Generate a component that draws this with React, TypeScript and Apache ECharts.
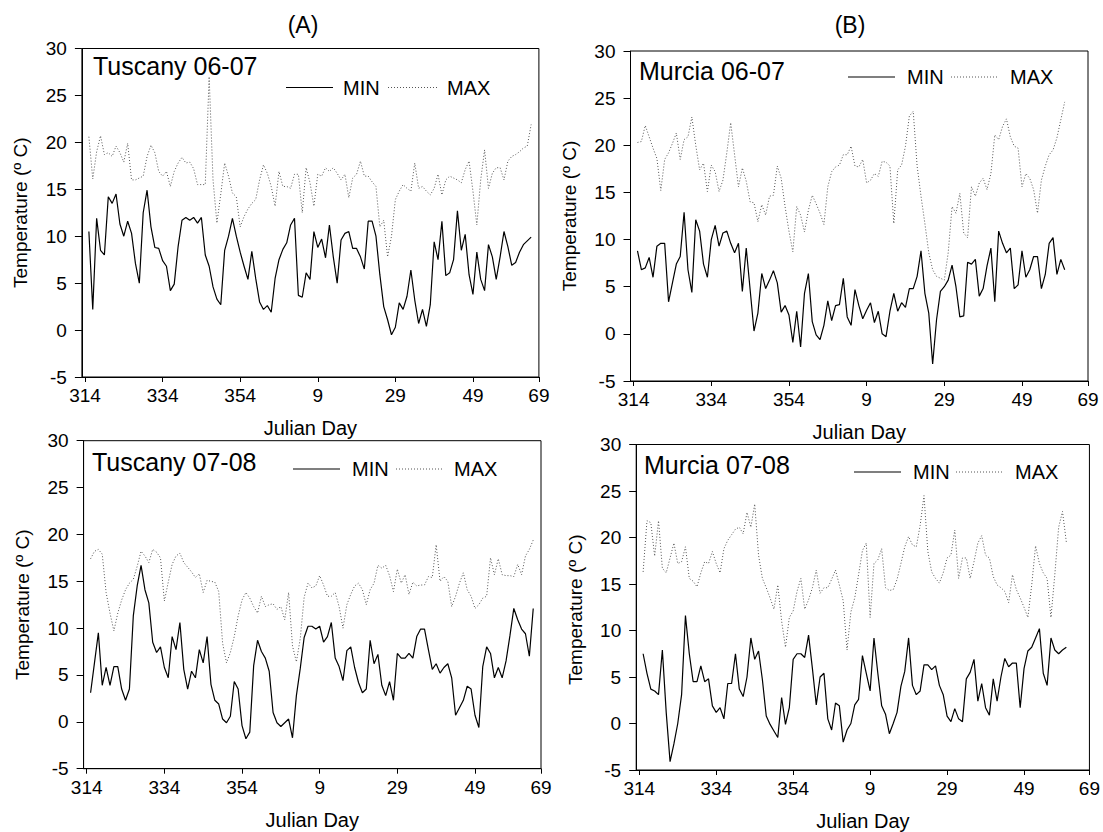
import React, { useEffect, useRef } from 'react';
import * as echarts from 'echarts';

// x positions are days counted from day 314 (day 365 -> 51, day 9 -> 60, ...)
const START_OFFSET = 1; // first observation is day 315
const TICK_POS = [0, 20, 40, 60, 80, 100, 117];
const TICK_LABELS = ['314', '334', '354', '9', '29', '49', '69'];
const X_MIN = -0.8;
const X_MAX = 117;
const Y_MIN = -5;
const Y_MAX = 30;
const Y_STEP = 5;

const PANEL_TITLES = ['Tuscany 06-07', 'Murcia 06-07', 'Tuscany 07-08', 'Murcia 07-08'];
const COLUMN_TITLES = ['(A)', '(B)'];
const SERIES_NAMES = ['MIN', 'MAX'];

const TUSCANY_0607_MIN = [
  10.5, 2.2, 11.9, 8.5, 8.0, 14.2, 13.5, 14.5, 11.3, 10.0,
  11.6, 10.3, 7.1, 5.0, 12.5, 14.9, 11.0, 8.8, 8.7, 7.4,
  6.8, 4.2, 4.9, 8.9, 11.7, 12.0, 11.7, 12.0, 11.4, 12.0,
  8.0, 6.8, 4.6, 3.3, 2.7, 8.5, 10.0, 11.9, 10.0, 8.3,
  6.8, 5.4, 8.4, 5.5, 3.0, 2.2, 2.6, 1.9, 5.5, 7.5,
  8.6, 9.3, 11.2, 11.9, 3.7, 3.5, 6.1, 5.4, 10.5, 8.8,
  9.7, 7.7, 11.2, 7.8, 5.0, 9.6, 10.3, 10.5, 8.7, 8.7,
  7.8, 6.5, 11.6, 11.6, 10.0, 5.9, 2.5, 1.1, -0.5, 0.3,
  2.9, 2.2, 3.6, 6.4, 3.2, 0.7, 2.2, 0.4, 2.7, 9.4,
  7.5, 11.6, 5.8, 6.1, 7.5, 12.7, 8.5, 10.2, 5.9, 3.8,
  8.3, 5.4, 4.2, 9.1, 7.8, 5.4, 7.8, 10.5, 8.9, 6.9,
  7.2, 8.3, 9.1, 9.5, 9.9,
];
const TUSCANY_0607_MAX = [
  20.6, 16.1, 19.0, 20.7, 18.7, 18.9, 18.5, 19.6, 18.9, 17.9,
  19.9, 16.0, 16.0, 16.2, 16.4, 18.5, 19.7, 18.9, 16.9, 16.4,
  16.9, 15.3, 16.9, 17.8, 18.4, 17.8, 17.9, 17.2, 15.5, 15.5,
  15.5, 27.0, 16.0, 11.4, 14.5, 17.8, 16.4, 14.6, 14.2, 11.0,
  12.1, 12.9, 13.5, 13.9, 16.0, 17.6, 16.7, 15.3, 13.2, 16.9,
  15.3, 15.3, 15.1, 16.6, 16.6, 12.5, 17.3, 15.7, 13.2, 16.6,
  16.4, 17.3, 16.9, 17.3, 16.7, 16.0, 16.6, 14.1, 16.2, 16.6,
  18.0, 16.4, 16.4, 15.8, 15.3, 11.0, 11.7, 7.8, 10.0, 13.9,
  14.8, 15.5, 15.1, 14.8, 17.8, 15.1, 15.3, 14.8, 14.4, 15.1,
  16.6, 14.4, 16.0, 16.4, 16.2, 16.0, 15.7, 17.1, 18.0, 14.8,
  11.2, 16.0, 19.2, 15.1, 16.7, 17.3, 17.3, 16.0, 18.0, 18.5,
  18.7, 19.0, 19.4, 19.6, 21.9,
];
const MURCIA_0607_MIN = [
  8.8, 6.8, 7.0, 8.1, 6.0, 9.3, 9.6, 9.6, 3.4, 5.4,
  7.4, 8.2, 12.9, 6.8, 4.4, 12.1, 10.9, 7.4, 6.0, 10.0,
  11.5, 9.3, 10.7, 10.9, 9.6, 8.6, 9.6, 4.5, 9.1, 4.7,
  0.3, 2.2, 6.4, 4.8, 5.7, 6.7, 5.4, 2.3, 3.0, 2.0,
  -0.9, 2.4, -1.4, 4.3, 6.4, 1.3, -0.1, -0.6, 0.9, 3.5,
  1.4, 3.0, 3.1, 5.9, 1.8, 0.9, 4.7, 3.0, 1.6, 2.5,
  3.3, 1.2, 2.4, 0.0, -0.3, 2.4, 4.3, 2.4, 3.3, 2.8,
  4.8, 4.8, 6.1, 8.8, 4.3, 2.2, -3.2, 1.5, 4.5, 5.0,
  5.7, 7.3, 5.0, 1.8, 1.9, 7.6, 7.4, 7.9, 4.0, 4.8,
  7.2, 9.1, 3.4, 10.9, 9.6, 8.6, 9.1, 4.8, 5.2, 8.8,
  6.0, 6.8, 8.2, 8.2, 4.8, 6.3, 9.6, 10.2, 6.3, 7.9,
  6.8,
];
const MURCIA_0607_MAX = [
  20.3, 20.4, 22.1, 20.9, 19.7, 18.6, 15.2, 18.5, 19.2, 20.2,
  21.3, 18.5, 20.6, 20.9, 23.0, 20.0, 17.4, 18.1, 15.1, 17.9,
  17.2, 15.1, 16.3, 19.2, 22.4, 19.0, 15.6, 17.6, 16.2, 14.0,
  13.9, 11.9, 13.7, 12.6, 14.6, 14.7, 17.8, 16.5, 13.5, 10.9,
  8.7, 13.5, 12.6, 10.8, 13.1, 14.7, 13.8, 12.8, 11.6, 15.6,
  17.2, 17.7, 17.9, 19.0, 19.0, 19.9, 17.8, 17.7, 18.5, 16.0,
  16.3, 17.0, 16.7, 18.3, 18.2, 17.8, 11.7, 17.4, 17.9, 19.9,
  23.1, 23.6, 17.8, 14.6, 11.7, 8.6, 6.8, 6.1, 5.9, 5.7,
  8.6, 13.5, 12.8, 14.9, 10.7, 10.2, 15.6, 14.6, 16.0, 16.5,
  15.3, 17.0, 21.1, 20.6, 22.0, 22.8, 20.9, 19.9, 19.7, 15.6,
  17.0, 16.5, 15.3, 12.8, 16.3, 17.8, 19.0, 19.5, 20.8, 22.7,
  24.6,
];
const TUSCANY_0708_MIN = [
  3.1, 6.3, 9.5, 3.9, 5.8, 3.9, 5.9, 5.9, 3.5, 2.3,
  3.5, 11.3, 14.5, 16.7, 14.1, 12.7, 8.5, 7.4, 8.0, 5.8,
  4.7, 9.1, 7.7, 10.6, 5.6, 3.5, 5.4, 4.7, 7.7, 6.3,
  9.1, 4.0, 2.3, 1.9, 0.3, -0.1, 0.6, 4.3, 3.5, -0.4,
  -1.8, -1.1, 6.0, 8.7, 7.5, 6.8, 5.4, 1.0, -0.1, -0.5,
  -0.1, 0.3, -1.7, 2.8, 5.7, 9.0, 10.2, 10.2, 9.9, 10.2,
  8.5, 9.1, 10.6, 6.8, 5.9, 4.4, 7.6, 8.0, 5.8, 4.2,
  3.1, 3.5, 8.7, 6.2, 7.2, 3.9, 2.8, 4.3, 2.3, 7.3,
  6.8, 6.8, 7.3, 6.8, 9.1, 9.9, 9.9, 7.7, 5.6, 6.2,
  5.2, 5.8, 6.2, 4.7, 0.7, 1.5, 2.3, 3.8, 3.5, 0.7,
  -0.6, 5.9, 8.0, 7.3, 4.7, 5.8, 4.7, 6.5, 9.2, 12.1,
  10.9, 9.9, 9.4, 7.0, 12.1,
];
const TUSCANY_0708_MAX = [
  17.4, 18.2, 18.4, 17.9, 13.8, 11.6, 9.7, 11.6, 13.0, 14.1,
  14.8, 15.2, 16.6, 18.2, 17.7, 17.0, 18.4, 18.1, 17.5, 12.9,
  14.9, 16.8, 17.7, 18.0, 17.0, 16.5, 16.0, 15.4, 15.8, 13.8,
  15.1, 15.0, 14.9, 13.9, 8.4, 6.3, 7.4, 9.1, 11.3, 13.0,
  13.8, 13.2, 12.3, 11.6, 13.4, 12.3, 12.5, 12.6, 12.0, 12.3,
  10.9, 13.8, 8.1, 6.4, 8.9, 13.3, 14.8, 14.3, 14.5, 15.6,
  14.6, 13.4, 13.4, 13.8, 12.3, 10.0, 12.5, 13.6, 14.5, 14.8,
  14.1, 12.5, 14.1, 14.8, 16.7, 16.4, 16.7, 15.6, 13.9, 16.3,
  14.8, 15.7, 13.6, 14.9, 14.5, 14.6, 14.6, 15.5, 15.4, 18.9,
  15.0, 15.5, 15.0, 12.3, 13.4, 14.8, 15.9, 14.1, 13.4, 12.1,
  12.5, 13.2, 13.4, 17.5, 15.7, 17.4, 15.7, 15.6, 15.6, 15.5,
  16.8, 15.7, 17.7, 18.4, 19.4,
];
const MURCIA_0708_MIN = [
  7.5, 5.4, 3.7, 3.5, 3.1, 7.9, 1.2, -4.1, -2.2, 0.0,
  3.1, 11.6, 7.5, 4.5, 4.5, 6.2, 4.5, 4.8, 1.9, 1.2,
  1.7, 0.5, 4.3, 4.3, 7.5, 3.7, 2.9, 5.0, 9.2, 6.9,
  7.8, 4.7, 0.8, -0.1, -0.8, -1.5, 2.8, -0.1, 1.7, 6.9,
  7.5, 7.5, 7.1, 9.5, 5.9, 2.0, 5.0, 5.4, 0.5, -0.7,
  2.2, 1.9, -2.0, -0.7, 0.0, 2.0, 2.6, 7.3, 5.4, 3.5,
  9.2, 5.4, 1.9, 1.0, -1.1, 0.0, 1.2, 4.0, 5.6, 9.2,
  4.1, 3.1, 3.5, 6.3, 6.3, 5.8, 6.2, 4.1, 3.1, 0.8,
  0.2, 1.6, 0.5, 0.2, 4.8, 5.5, 6.9, 2.4, 4.3, 1.7,
  0.9, 4.8, 2.4, 5.0, 7.0, 6.1, 6.5, 6.5, 1.7, 5.9,
  7.8, 8.2, 9.2, 10.2, 5.4, 4.1, 9.2, 7.9, 7.5, 7.9,
  8.2,
];
const MURCIA_0708_MAX = [
  16.3, 21.8, 21.6, 18.0, 21.8, 16.7, 16.2, 17.8, 19.4, 17.2,
  17.4, 19.0, 15.6, 15.3, 14.7, 16.2, 17.4, 17.2, 18.5, 17.2,
  16.2, 18.8, 19.7, 20.3, 20.9, 21.1, 20.4, 22.7, 21.1, 23.6,
  18.1, 15.6, 14.6, 13.5, 12.3, 14.9, 11.0, 8.2, 11.4, 12.1,
  14.2, 15.6, 12.3, 13.3, 14.6, 16.5, 14.0, 14.6, 14.6, 15.5,
  16.5, 14.9, 13.2, 7.9, 12.0, 13.5, 16.0, 18.6, 19.4, 11.4,
  17.2, 17.6, 18.8, 14.6, 14.3, 14.4, 15.5, 17.2, 19.0, 20.1,
  19.2, 19.0, 21.3, 24.5, 18.5, 16.3, 15.6, 15.1, 16.2, 17.8,
  18.1, 20.8, 15.6, 17.8, 17.8, 15.6, 17.4, 19.4, 20.2, 18.1,
  17.8, 15.8, 14.9, 14.6, 14.2, 13.0, 16.0, 14.4, 13.5, 12.5,
  11.4, 14.9, 19.1, 17.2, 16.2, 15.6, 11.4, 16.0, 21.1, 22.8,
  19.5,
];

const PANEL_DATA = [
  [TUSCANY_0607_MIN, TUSCANY_0607_MAX],
  [MURCIA_0607_MIN, MURCIA_0607_MAX],
  [TUSCANY_0708_MIN, TUSCANY_0708_MAX],
  [MURCIA_0708_MIN, MURCIA_0708_MAX],
];

// layout (pixels)
const GRIDS = [
  { left: 81.9, top: 48.5, width: 457, height: 328.5 },
  { left: 630.5, top: 51, width: 457.5, height: 330 },
  { left: 83.6, top: 440.7, width: 457.4, height: 328 },
  { left: 636.2, top: 444.5, width: 457.5, height: 330.5 },
];
const TITLE_POS = [[93, 66], [639, 70.5], [92, 462], [644, 465]];
const LEGEND_POS = [
  { s: [286, 333], m: 343, d: [388, 437], x: 447, y: 87.5 },
  { s: [848, 895], m: 907, d: [951, 998], x: 1010, y: 77 },
  { s: [293, 340], m: 352, d: [396, 444], x: 454, y: 469 },
  { s: [854, 901], m: 913, d: [956, 1004], x: 1015, y: 472 },
];
const COLUMN_TITLE_POS = [[303, 25], [850, 25]];

const FONT = '"Liberation Sans", Arial, sans-serif';
const MIN_STYLE = { color: '#000', width: 1.2, type: 'solid' as const };
const MAX_STYLE = { color: '#555', width: 1, type: [1, 2] as any };

const toPoints = (arr: number[]) => arr.map((v, i) => [START_OFFSET + i, v]);

export default function App() {
  const ref = useRef<HTMLDivElement>(null);

  useEffect(() => {
    if (!ref.current) return;
    const chart = echarts.init(ref.current, undefined, { renderer: 'svg' });

    const xAxes = GRIDS.map((_, i) => ({
      type: 'value',
      gridIndex: i,
      position: 'bottom',
      min: X_MIN,
      max: X_MAX,
      name: 'Julian Day',
      nameLocation: 'middle',
      nameGap: 41,
      nameTextStyle: { fontFamily: FONT, fontSize: 20, color: '#000' },
      axisLine: { show: true, onZero: false, lineStyle: { color: '#000', width: 1 } },
      axisTick: { show: true, inside: false, length: 5, customValues: TICK_POS, lineStyle: { color: '#000' } },
      axisLabel: {
        show: true,
        customValues: TICK_POS,
        margin: 9,
        fontFamily: FONT,
        fontSize: 19,
        color: '#000',
        formatter: (v: number) => {
          const k = TICK_POS.findIndex((p) => Math.abs(p - v) < 0.01);
          return k >= 0 ? TICK_LABELS[k] : '';
        },
      },
      splitLine: { show: false },
    }));

    const yAxes = GRIDS.map((_, i) => ({
      type: 'value',
      gridIndex: i,
      position: 'left',
      min: Y_MIN,
      max: Y_MAX,
      interval: Y_STEP,
      axisLine: { show: true, onZero: false, lineStyle: { color: '#000', width: 1 } },
      axisTick: { show: true, inside: false, length: 7, lineStyle: { color: '#000' } },
      axisLabel: { margin: 15, fontFamily: FONT, fontSize: 19, color: '#000' },
      splitLine: { show: false },
    }));

    const series: any[] = [];
    PANEL_DATA.forEach((pair, i) => {
      pair.forEach((arr, j) => {
        series.push({
          type: 'line',
          name: SERIES_NAMES[j],
          xAxisIndex: i,
          yAxisIndex: i,
          data: toPoints(arr),
          symbol: 'none',
          showSymbol: false,
          lineStyle: j === 0 ? MIN_STYLE : MAX_STYLE,
          silent: true,
          z: j === 0 ? 3 : 2,
        });
      });
    });

    const graphic: any[] = [];
    PANEL_TITLES.forEach((t, i) => {
      graphic.push({
        type: 'text', x: TITLE_POS[i][0], y: TITLE_POS[i][1],
        style: { text: t, fontFamily: FONT, fontSize: 25, fill: '#000', align: 'left', verticalAlign: 'middle' },
      });
      const L = LEGEND_POS[i];
      graphic.push({
        type: 'line', shape: { x1: L.s[0], y1: L.y, x2: L.s[1], y2: L.y },
        style: { stroke: '#000', lineWidth: 1.2 },
      });
      graphic.push({
        type: 'text', x: L.m, y: L.y,
        style: { text: SERIES_NAMES[0], fontFamily: FONT, fontSize: 20, fill: '#000', align: 'left', verticalAlign: 'middle' },
      });
      graphic.push({
        type: 'line', shape: { x1: L.d[0], y1: L.y, x2: L.d[1], y2: L.y },
        style: { stroke: '#555', lineWidth: 1, lineDash: [1, 2] },
      });
      graphic.push({
        type: 'text', x: L.x, y: L.y,
        style: { text: SERIES_NAMES[1], fontFamily: FONT, fontSize: 20, fill: '#000', align: 'left', verticalAlign: 'middle' },
      });
      const g = GRIDS[i];
      graphic.push({
        type: 'text', x: g.left - 61, y: g.top + g.height / 2, rotation: Math.PI / 2,
        style: { text: 'Temperature (º C)', fontFamily: FONT, fontSize: 19, fill: '#000', align: 'center', verticalAlign: 'middle' },
      });
    });
    COLUMN_TITLES.forEach((t, i) => {
      graphic.push({
        type: 'text', x: COLUMN_TITLE_POS[i][0], y: COLUMN_TITLE_POS[i][1],
        style: { text: t, fontFamily: FONT, fontSize: 23, fill: '#000', align: 'center', verticalAlign: 'middle' },
      });
    });

    chart.setOption({
      animation: false,
      backgroundColor: '#fff',
      grid: GRIDS.map((g) => ({ ...g, show: true, borderColor: '#000', borderWidth: 1, containLabel: false })),
      xAxis: xAxes,
      yAxis: yAxes,
      series,
      graphic,
    });

    return () => chart.dispose();
  }, []);

  return (
    <div
      ref={ref}
      style={{ position: 'absolute', left: 0, top: 0, width: 1103, height: 832, background: '#fff' }}
    />
  );
}
